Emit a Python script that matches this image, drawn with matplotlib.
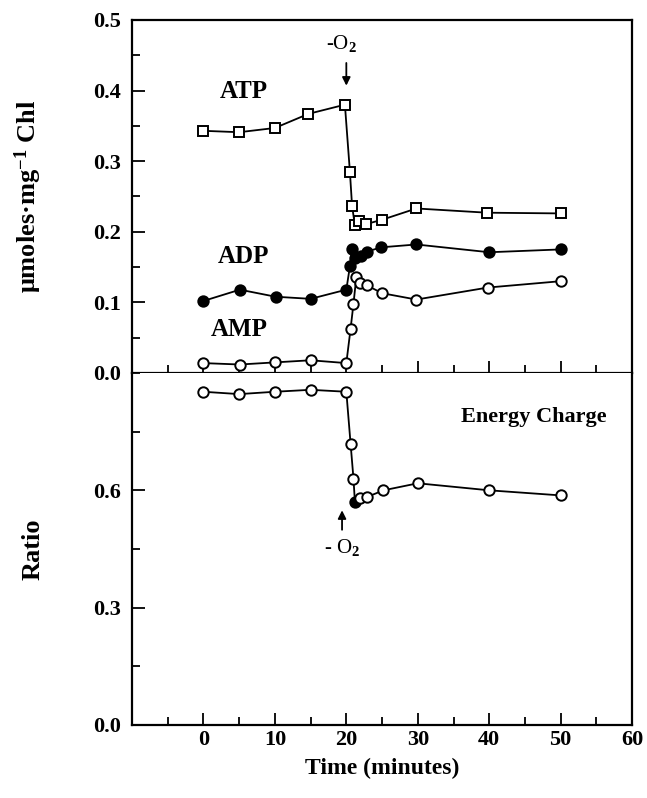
import matplotlib
matplotlib.use('Agg')
import matplotlib.pyplot as plt
from matplotlib.ticker import MultipleLocator

plt.rcParams['font.family'] = ['Liberation Serif', 'DejaVu Serif']
plt.rcParams['font.weight'] = 'bold'
plt.rcParams['axes.labelweight'] = 'bold'
plt.rcParams['mathtext.fontset'] = 'custom'
plt.rcParams['mathtext.rm'] = 'Liberation Serif:bold'
plt.rcParams['mathtext.it'] = 'Liberation Serif:bold'

# ---- data ----
atp_t = [0, 5, 10, 14.7, 19.8, 20.5, 20.8, 21.2, 21.8, 22.8, 25, 29.8, 39.7, 50]
atp_v = [0.343, 0.341, 0.347, 0.367, 0.380, 0.285, 0.237, 0.209, 0.215, 0.211, 0.217, 0.233, 0.227, 0.226]

adp_t = [0, 5.1, 10.1, 15, 20, 20.5, 20.8, 21.2, 22.0, 22.9, 24.9, 29.8, 40, 50]
adp_v = [0.102, 0.118, 0.108, 0.105, 0.118, 0.151, 0.176, 0.163, 0.166, 0.172, 0.178, 0.182, 0.171, 0.175]

amp_t = [0, 5.1, 10, 15, 20, 20.6, 21.0, 21.4, 21.9, 22.9, 25, 29.8, 39.8, 50]
amp_v = [0.014, 0.012, 0.015, 0.018, 0.014, 0.063, 0.098, 0.136, 0.128, 0.124, 0.113, 0.104, 0.121, 0.130]

ec_t = [0, 5, 10, 15, 20, 20.6, 21.0, 21.2, 21.9, 22.9, 25.2, 30, 40, 50]
ec_v = [0.852, 0.846, 0.852, 0.857, 0.852, 0.718, 0.630, 0.570, 0.581, 0.583, 0.600, 0.618, 0.600, 0.587]
ec_filled = [False, False, False, False, False, False, False, True, False, False, False, False, False, False]

x_ticks = [0, 10, 20, 30, 40, 50, 60]

fig = plt.figure(figsize=(6.47, 7.98), dpi=100)
ax1 = fig.add_axes([0.204, 0.5326, 0.773, 0.4424])
ax2 = fig.add_axes([0.204, 0.0915, 0.773, 0.4411])

lw = 1.3
ms = 7.5
ax1.plot(atp_t, atp_v, color='black', lw=lw, marker='s', ms=ms - 0.5,
         mfc='white', mec='black', mew=1.4)
ax1.plot(adp_t, adp_v, color='black', lw=lw, marker='o', ms=ms,
         mfc='black', mec='black', mew=1.4)
ax1.plot(amp_t, amp_v, color='black', lw=lw, marker='o', ms=ms,
         mfc='white', mec='black', mew=1.4)

ax2.plot(ec_t, ec_v, color='black', lw=lw, zorder=2)
for t, v, f in zip(ec_t, ec_v, ec_filled):
    ax2.plot(t, v, marker='o', ms=ms, mfc='black' if f else 'white',
             mec='black', mew=1.4, zorder=3 if f else 4)

# labels inside the plots
ax1.text(5.6, 0.399, 'ATP', ha='center', va='center', fontsize=18)
ax1.text(5.6, 0.165, 'ADP', ha='center', va='center', fontsize=18)
ax1.text(5.0, 0.062, 'AMP', ha='center', va='center', fontsize=18)
ax1.annotate('', xy=(20, 0.403), xytext=(20, 0.443),
             arrowprops=dict(arrowstyle='-|>', color='black', lw=1.3,
                             mutation_scale=12))
ax1.text(19.3, 0.466, r'-O$_2$', ha='center', va='center', fontsize=15,
         fontweight='normal')

ax2.text(46.3, 0.787, 'Energy Charge', ha='center', va='center', fontsize=16)
ax2.annotate('', xy=(19.4, 0.556), xytext=(19.4, 0.492),
             arrowprops=dict(arrowstyle='-|>', color='black', lw=1.3,
                             mutation_scale=12))
ax2.text(19.4, 0.454, r'- O$_2$', ha='center', va='center', fontsize=15,
         fontweight='normal')

# axes styling
for ax in (ax1, ax2):
    ax.set_xlim(-10, 60)
    ax.xaxis.set_major_locator(MultipleLocator(10))
    ax.xaxis.set_minor_locator(MultipleLocator(5))
    ax.tick_params(which='both', direction='in', width=1.3, labelsize=16,
                   top=False, right=False)
    ax.tick_params(which='major', length=9)
    ax.tick_params(which='minor', length=6)
    ax.tick_params(axis='y', pad=8)
    for s in ax.spines.values():
        s.set_linewidth(1.6)

ax1.set_ylim(0, 0.5)
ax1.yaxis.set_minor_locator(MultipleLocator(0.05))
ax1.set_yticks([0.0, 0.1, 0.2, 0.3, 0.4, 0.5])
ax1.set_yticklabels(['0.0', '0.1', '0.2', '0.3', '0.4', '0.5'])
ax1.tick_params(axis='x', labelbottom=False)
ax1.set_ylabel('μmoles·mg$^{-1}$ Chl', fontsize=19)
ax1.yaxis.set_label_coords(-0.175, 0.5)

ax2.set_ylim(0, 0.9)
ax2.set_yticks([0.0, 0.3, 0.6])
ax2.set_yticklabels(['0.0', '0.3', '0.6'])
ax2.yaxis.set_minor_locator(MultipleLocator(0.15))
ax2.set_xticks(x_ticks)
ax2.set_xticklabels([str(t) for t in x_ticks])
ax2.spines['top'].set_visible(False)
ax2.set_ylabel('Ratio', fontsize=19)
ax2.yaxis.set_label_coords(-0.175, 0.5)
ax2.set_xlabel('Time (minutes)', fontsize=17, labelpad=6)

fig.savefig('out.png', dpi=100)
